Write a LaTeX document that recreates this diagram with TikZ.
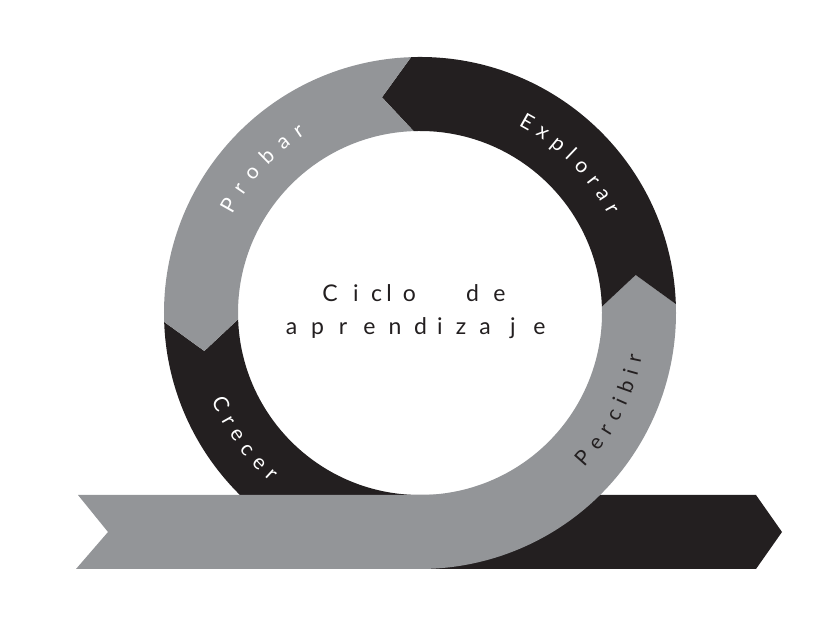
\documentclass[tikz,border=0pt]{standalone}
\usepackage{fontspec}
\usetikzlibrary{calc}
\setmainfont{Lato}
\newfontfamily\ringfam{Lato}
\newcommand\rf{\ringfam\fontsize{21}{25}\selectfont}
\newcommand\cf{\ringfam\fontsize{23}{27}\selectfont}
\definecolor{cgray}{HTML}{939598}
\definecolor{cblack}{HTML}{231F20}
% #1 mid angle, #2 baseline radius, #3 sign (-1 clockwise, tops out; +1 counter-clockwise, tops in),
% #4 tracking (pt), #5 colour, #6 list letter/width(pt)
\newcommand\arcword[6]{%
  \gdef\arctot{0}%
  \foreach \ch/\w in {#6} {%
    \pgfmathsetmacro\tmpa{\arctot+\w+#4}%
    \global\let\arctot\tmpa
  }%
  \pgfmathsetmacro\tmpb{-(\arctot-#4)/2}%
  \global\let\arcpos\tmpb
  \foreach \ch/\w in {#6} {%
    \pgfmathsetmacro\cpos{\arcpos+\w/2}%
    \pgfmathsetmacro\ang{#1+#3*deg(\cpos/#2)}%
    \pgfmathsetmacro\rot{\ang+#3*90}%
    \node[anchor=base, rotate=\rot, inner sep=0pt, text=#5, font=\rf] at ($(C)+(\ang:#2)$) {\ch};
    \pgfmathsetmacro\tmpc{\arcpos+\w+#4}%
    \global\let\arcpos\tmpc
  }%
}
\begin{document}
\begin{tikzpicture}[x=1pt,y=1pt,
  midletter/.style={anchor=base, inner sep=0pt, text=cblack, font=\cf}]
\useasboundingbox (0,0) rectangle (828,620);
\coordinate (C) at (420,307);
% Crecer (black) + bottom band with arrow tip
\fill[cblack] ($(C)+(182:256)$) arc[start angle=182,end angle=270,radius=256]
  -- (756,51) -- (782,88) -- (756,125) -- (420,125)
  arc[start angle=270,end angle=182,radius=182]
  -- ($(C)+(190:219)$) -- cycle;
% Percibir (gray) + bottom band with tail
\fill[cgray] (78,125) -- (108,88) -- (76,51) -- (420,51)
  arc[start angle=-90,end angle=2,radius=256]
  -- ($(C)+(10:219)$) -- ($(C)+(2:182)$)
  arc[start angle=2,end angle=-90,radius=182] -- cycle;
% Explorar (black)
\fill[cblack] ($(C)+(2:256)$) arc[start angle=2,end angle=92,radius=256]
  -- ($(C)+(100:219)$) -- ($(C)+(92:182)$)
  arc[start angle=92,end angle=2,radius=182]
  -- ($(C)+(10:219)$) -- cycle;
% Probar (gray)
\fill[cgray] ($(C)+(92:256)$) arc[start angle=92,end angle=182,radius=256]
  -- ($(C)+(190:219)$) -- ($(C)+(182:182)$)
  arc[start angle=182,end angle=92,radius=182]
  -- ($(C)+(100:219)$) -- cycle;
% ring words
\arcword{137.5}{212}{-1}{9.5}{white}{P/12.6,r/8,o/11.8,b/11.8,a/10.5,r/8}
\arcword{44.8}{212}{-1}{7.5}{white}{E/12,x/10.1,p/11.8,l/5,o/11.8,r/8,a/10.5,r/8}
\arcword{215.6}{226}{1}{8}{white}{C/14.1,r/8,e/10.9,c/9.7,e/10.9,r/8}
\arcword{-27}{226}{1}{8.1}{cblack}{P/12.6,e/10.9,r/8,c/9.7,i/4.8,b/11.8,i/4.8,r/8}
% centre text, letter by letter (wide tracking)
\foreach \ch/\x [count=\i] in {C/330,i/356,c/376.5,l/389,o/409.5,d/472.5,e/499.5}
  \node[midletter] (ta\i) at (\x,318) {\ch};
\foreach \ch/\x [count=\i] in {a/291.5,p/317.5,r/343,e/369.5,n/395,d/420.5,i/440,z/461,a/485,j/513,e/539.5}
  \node[midletter] (tb\i) at (\x,285) {\ch};
\end{tikzpicture}
\end{document}
